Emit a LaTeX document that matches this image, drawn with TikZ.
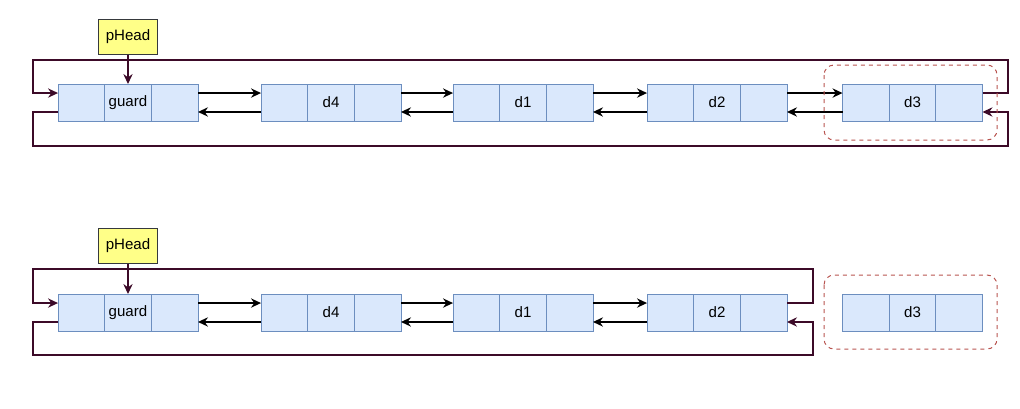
\documentclass[tikz,border=0pt]{standalone}
\usepackage{fontspec}
\setmainfont{Liberation Sans}
\usetikzlibrary{positioning,arrows.meta}
\definecolor{cellfill}{HTML}{DAE8FC}
\definecolor{cellline}{HTML}{6C8EBF}
\definecolor{headfill}{HTML}{FFFF88}
\definecolor{headline}{HTML}{36393D}
\definecolor{ringline}{RGB}{60,10,40}
\definecolor{grpline}{HTML}{B85450}
\tikzset{
  cell/.style={draw=cellline, fill=cellfill, line width=.75pt,
    minimum width=35pt, minimum height=27.75pt, inner sep=0pt, outer sep=0pt},
  headbox/.style={draw=headline, fill=headfill, line width=.75pt,
    minimum width=44.25pt, minimum height=26.25pt, inner sep=0pt},
  link/.style={-{Stealth[length=7.5pt,width=7pt,inset=2.5pt]}, line width=.9pt},
  ring/.style={link, draw=ringline},
  group/.style={draw=grpline, line width=.75pt, dash pattern=on 3pt off 3pt,
    rounded corners=7.5pt}
}
\begin{document}
\begin{tikzpicture}[x=.75pt,y=-.75pt,font=\fontsize{11.3}{13}\selectfont]
\useasboundingbox (0,0) rectangle (1020,408);
% two copies of the list
\foreach \r/\y in {t/102.5,b/312.5}{
  \foreach \n/\x in {guard/128,d4/331,d1/523,d2/717,d3/912.5}{
    \node[cell] (\r-\n) at (\x,\y) {\n};
    \node[cell, left=0pt of \r-\n] (\r-\n-l) {};
    \node[cell, right=0pt of \r-\n] (\r-\n-r) {};
  }
  \foreach \p/\q in {guard/d4,d4/d1,d1/d2}{
    \draw[link] ([yshift=7.1pt]\r-\p-r.east) -- ([yshift=7.1pt]\r-\q-l.west);
    \draw[link] ([yshift=-7.1pt]\r-\q-l.west) -- ([yshift=-7.1pt]\r-\p-r.east);
  }
}
\draw[link] ([yshift=7.1pt]t-d2-r.east) -- ([yshift=7.1pt]t-d3-l.west);
\draw[link] ([yshift=-7.1pt]t-d3-l.west) -- ([yshift=-7.1pt]t-d2-r.east);

% head pointers
\node[headbox] (t-head) at (128,36.5) {pHead};
\node[headbox] (b-head) at (128,245.5) {pHead};
\draw[ring] (t-head) -- (t-guard);
\draw[ring] (b-head) -- (b-guard);

% ring closing links
\draw[ring] ([yshift=7.1pt]t-d3-r.east) -| (1008,60) -- (33,60)
  |- ([yshift=7.1pt]t-guard-l.west);
\draw[ring] ([yshift=-7.1pt]t-guard-l.west) -| (33,146) -- (1008,146)
  |- ([yshift=-7.1pt]t-d3-r.east);
\draw[ring] ([yshift=7.1pt]b-d2-r.east) -| (813,269) -- (33,269)
  |- ([yshift=7.1pt]b-guard-l.west);
\draw[ring] ([yshift=-7.1pt]b-guard-l.west) -| (33,355) -- (813,355)
  |- ([yshift=-7.1pt]b-d2-r.east);

% removed node
\draw[group] (824,65) rectangle (997,140);
\draw[group] (824,275) rectangle (997,349);
\end{tikzpicture}
\end{document}
